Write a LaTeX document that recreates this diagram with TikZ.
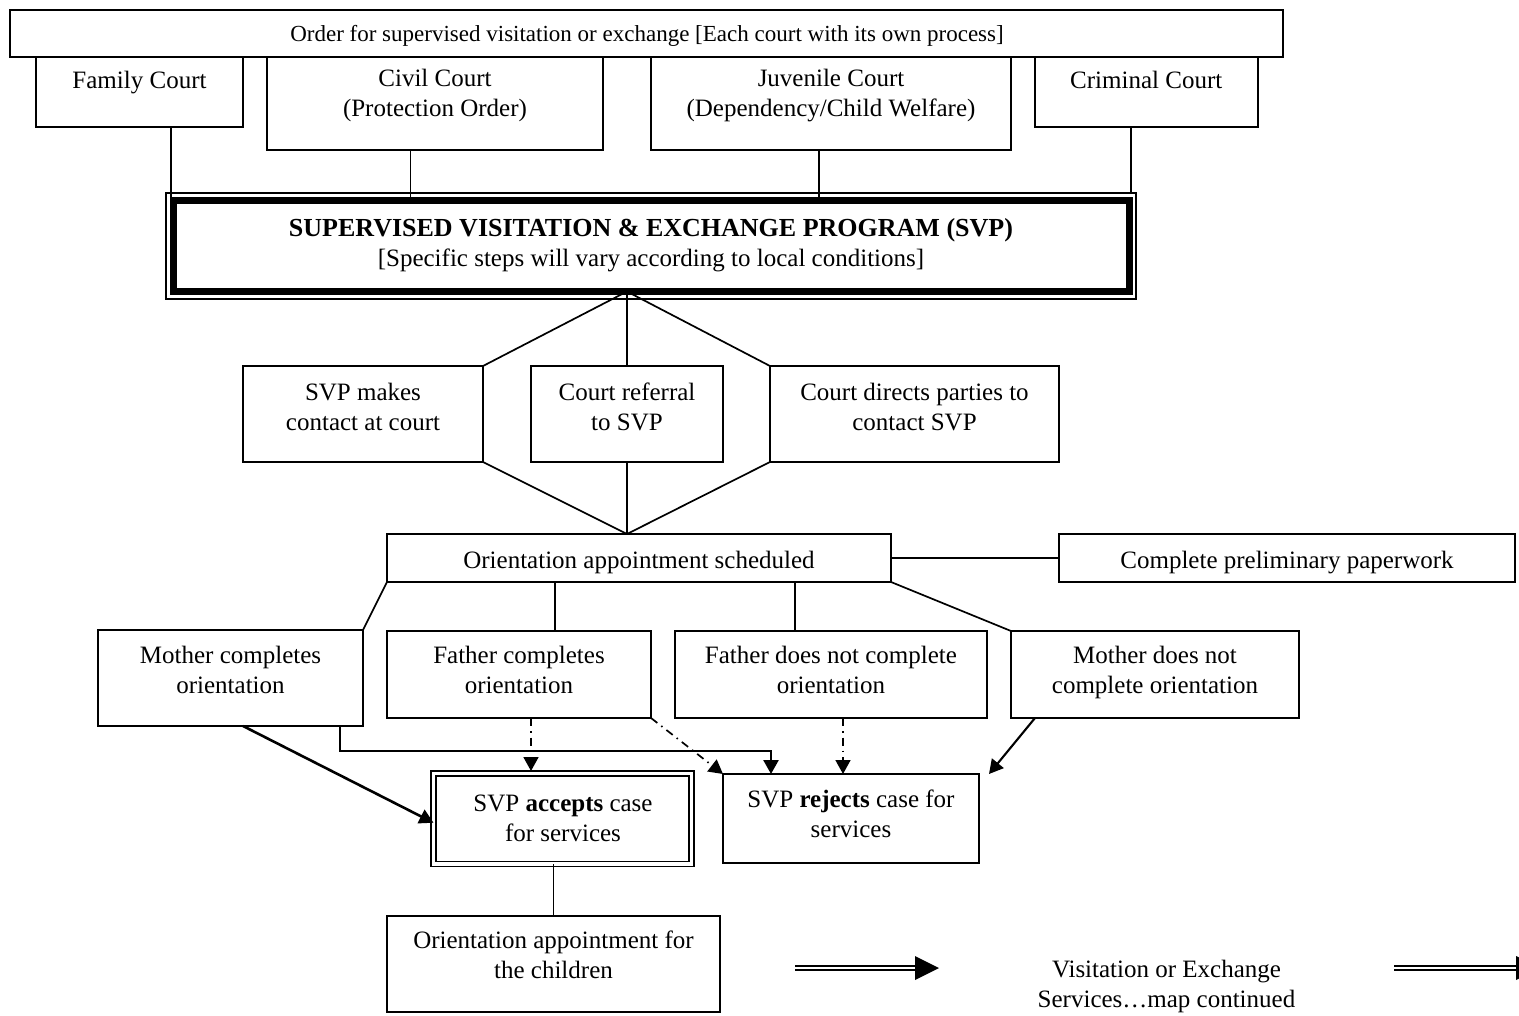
\documentclass[tikz,border=0pt]{standalone}
\usepackage{fontspec}
\setmainfont{Liberation Serif}
\usetikzlibrary{arrows.meta,calc}
\begin{document}
\begin{tikzpicture}[x=1pt,y=-1pt,
  box/.style={draw,line width=2pt,inner sep=0pt,outer sep=0pt},
  txt/.style={font=\fontsize{25}{30}\selectfont,align=center,inner sep=0pt,outer sep=0pt},
  conn/.style={line width=1.7pt},
  mytip/.style={-{Triangle[length=14pt,width=15pt]}},
  sarr/.style={line width=2.6pt,mytip},
  marr/.style={line width=2.1pt,mytip},
  darr/.style={line width=1.7pt,mytip,dash pattern=on 8pt off 5pt on 1.5pt off 5pt},
  dbl/.style={line width=2.4pt,double,double distance=1.6pt}]
\fill[white] (0,0) rectangle (1519,1016);
\useasboundingbox (0,0) rectangle (1519,1016);

% top order box and courts
\node[box,minimum width=1273pt,minimum height=47pt] (order) at (646.5,33.5) {};
\node[txt,font=\fontsize{23}{28}\selectfont] (ordert) at (647,36) {\strut Order for supervised visitation or exchange [Each court with its own process]};

\node[box,minimum width=207pt,minimum height=70pt] (fam) at (139.5,92) {};
\node[txt] (famt) at (139.5,82.3) {\strut Family Court};
\node[box,minimum width=336pt,minimum height=93pt] (civ) at (435,103.5) {};
\node[txt] (civt) at (435,96) {\strut Civil Court\\\strut (Protection Order)};
\node[box,minimum width=360pt,minimum height=93pt] (juv) at (831,103.5) {};
\node[txt] (juvt) at (831,96) {\strut Juvenile Court\\\strut (Dependency/Child Welfare)};
\node[box,minimum width=223.5pt,minimum height=70pt] (cri) at (1146.25,92) {};
\node[txt] (crit) at (1146.25,82.3) {\strut Criminal Court};

% SVP program box
\node[box,line width=1.6pt,minimum width=970pt,minimum height=106pt] (svpo) at (651,246) {};
\node[box,line width=7pt,minimum width=956pt,minimum height=91pt] (svp) at (651.5,246) {};
\node[txt] (svpt) at (651,245.7) {\strut{\fontsize{26}{30}\selectfont\bfseries SUPERVISED VISITATION \& EXCHANGE PROGRAM (SVP)}\\\strut [Specific steps will vary according to local conditions]};

\draw[conn] ([xshift=31.5pt]fam.south) -- ([xshift=31.5pt]fam.south |- svp.north);
\draw[conn] ([xshift=-24.5pt]civ.south) -- ([xshift=-24.5pt]civ.south |- svp.north);
\draw[conn] ([xshift=-12pt]juv.south) -- ([xshift=-12pt]juv.south |- svp.north);
\draw[conn] ([xshift=-15pt]cri.south) -- ([xshift=-15pt]cri.south |- svpo.north);

% referral boxes
\node[box,minimum width=240pt,minimum height=96pt] (mk) at (363,414) {};
\node[txt] (mkt) at (363,409) {\strut SVP makes\\\strut contact at court};
\node[box,minimum width=192pt,minimum height=96pt] (ref) at (627,414) {};
\node[txt] (reft) at (627,409) {\strut Court referral\\\strut to SVP};
\node[box,minimum width=289pt,minimum height=96pt] (dir) at (914.5,414) {};
\node[txt] (dirt) at (914.5,409) {\strut Court directs parties to\\\strut contact SVP};

\coordinate (apex) at (ref.north |- svp.south);
\draw[conn] (apex) -- (mk.north east);
\draw[conn] (apex) -- (ref.north);
\draw[conn] (apex) -- (dir.north west);

% orientation scheduled
\node[box,minimum width=504pt,minimum height=48pt] (ori) at (639,558) {};
\node[txt] (orit) at (639,562.3) {\strut Orientation appointment scheduled};
\node[box,minimum width=456pt,minimum height=48pt] (cp) at (1287,558) {};
\node[txt] (cpt) at (1287,562.3) {\strut Complete preliminary paperwork};
\draw[conn] (ori.east) -- (cp.west);

\coordinate (bap) at (ref.south |- ori.north);
\draw[conn] (mk.south east) -- (bap);
\draw[conn] (ref.south) -- (bap);
\draw[conn] (dir.south west) -- (bap);

% parents row
\node[box,minimum width=265pt,minimum height=96pt] (mc) at (230.5,678) {};
\node[txt] (mct) at (230.5,672) {\strut Mother completes\\\strut orientation};
\node[box,minimum width=264pt,minimum height=87pt] (fc) at (519,674.5) {};
\node[txt] (fct) at (519,672) {\strut Father completes\\\strut orientation};
\node[box,minimum width=312pt,minimum height=87pt] (fd) at (831,674.5) {};
\node[txt] (fdt) at (831,672) {\strut Father does not complete\\\strut orientation};
\node[box,minimum width=288pt,minimum height=87pt] (mn) at (1155,674.5) {};
\node[txt] (mnt) at (1155,672) {\strut Mother does not\\\strut complete orientation};

\draw[conn] (ori.south west) -- (mc.north east);
\draw[conn] ([xshift=-84pt]ori.south) -- ([xshift=-84pt]ori.south |- fc.north);
\draw[conn] ([xshift=156pt]ori.south) -- ([xshift=156pt]ori.south |- fd.north);
\draw[conn] (ori.south east) -- (mn.north west);

% decision boxes
\node[draw,double,line width=1.5pt,double distance=3.2pt,inner sep=0pt,outer sep=0pt,minimum width=258pt,minimum height=90.5pt] (acc) at (562.5,818.75) {};
\node[txt] (acct) at (563,820.7) {\strut SVP \textbf{accepts} case\\\strut for services};
\node[box,minimum width=256pt,minimum height=89pt] (rej) at (851,818.5) {};
\node[txt] (rejt) at (851,816.5) {\strut SVP \textbf{rejects} case for\\\strut services};

\draw[sarr] ([xshift=12.5pt]mc.south) -- ([yshift=-4pt]acc.west);
\coordinate (elb) at (771,751);
\draw[sarr] ([xshift=109.5pt]mc.south) |- (elb) -- (elb |- rej.north);
\draw[darr] ([xshift=12pt]fc.south) -- ([xshift=12pt,yshift=2.5pt]fc.south |- acc.north);
\draw[darr] (fc.south east) -- (rej.north west);
\draw[darr] ([xshift=12pt]fd.south) -- ([xshift=12pt]fd.south |- rej.north);
\draw[marr] ([xshift=-120pt]mn.south) -- ([xshift=10pt]rej.north east);

% children orientation and continuation
\node[box,minimum width=333pt,minimum height=96pt] (och) at (553.5,964) {};
\node[txt] (ocht) at (553.5,957) {\strut Orientation appointment for\\\strut the children};
\draw[conn] (och.north |- acc.south) -- (och.north);

\node[txt] (vis) at (1166.5,986.5) {\strut Visitation or Exchange\\\strut Services…map continued};

\coordinate (a1s) at (795,968);
\coordinate (a1e) at (915,968);
\draw[dbl] (a1s) -- (a1e);
\fill (a1e) -- ++(0,-12) -- ++(24,12) -- ++(-24,12) -- cycle;
\coordinate (a2s) at (1394,968);
\coordinate (a2e) at (1516,968);
\draw[dbl] (a2s) -- (a2e);
\fill (a2e) -- ++(0,-12) -- ++(24,12) -- ++(-24,12) -- cycle;
\end{tikzpicture}
\end{document}
